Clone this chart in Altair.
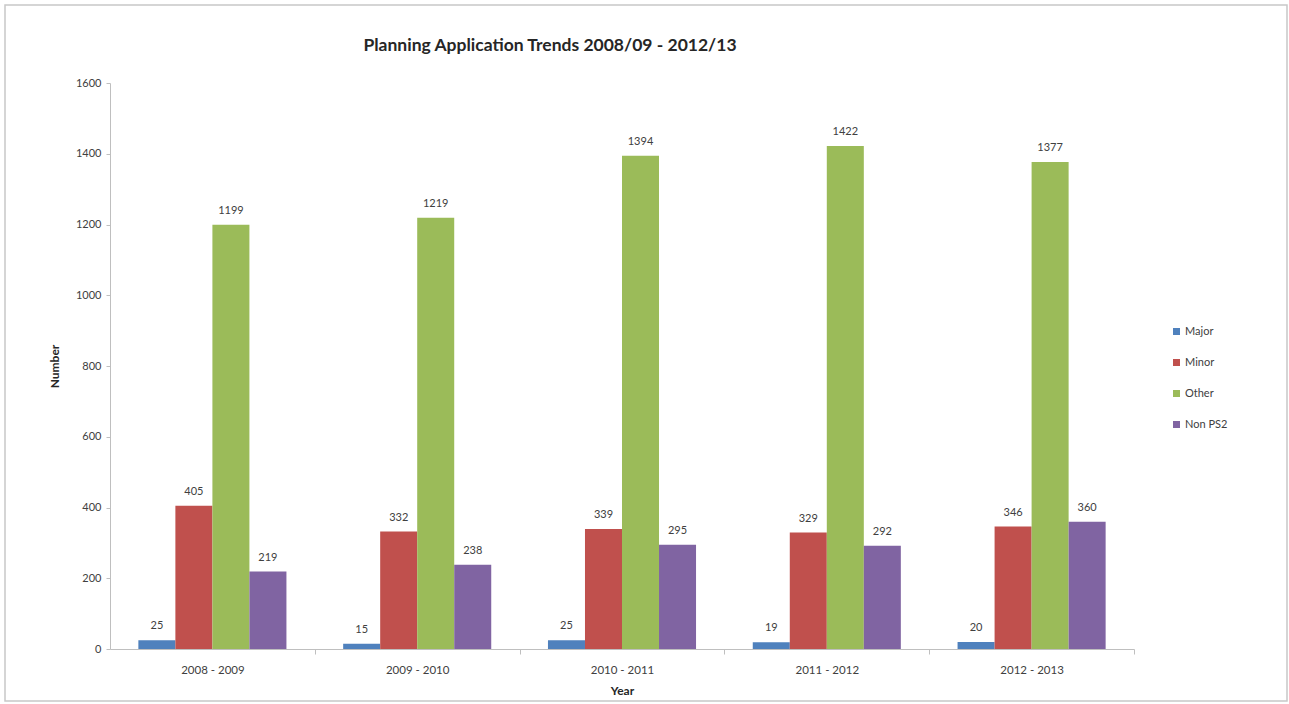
import altair as alt
import pandas as pd

# Planning application counts per financial year
years = ["2008 - 2009", "2009 - 2010", "2010 - 2011", "2011 - 2012", "2012 - 2013"]
categories = ["Major", "Minor", "Other", "Non PS2"]
major = [25, 15, 25, 19, 20]
minor = [405, 332, 339, 329, 346]
other = [1199, 1219, 1394, 1422, 1377]
non_ps2 = [219, 238, 295, 292, 360]
colors = ["#4F81BD", "#C0504D", "#9BBB59", "#8064A2"]

series = dict(zip(categories, [major, minor, other, non_ps2]))
rows = []
for cat in categories:
    for yr, val in zip(years, series[cat]):
        rows.append({"Year": yr, "Type": cat, "Number": val})
df = pd.DataFrame(rows)

FONT = "Lato"
W, H = 1024, 566
step = W / len(years)

x_enc = alt.X(
    "Year:N",
    sort=years,
    scale=alt.Scale(paddingInner=0.277, paddingOuter=0.1385),
    axis=alt.Axis(
        title="Year",
        titleFont=FONT,
        titleFontSize=12,
        titleFontWeight="bold",
        titleColor="#262626",
        titlePadding=10,
        labelFont=FONT,
        labelFontSize=11.5,
        labelColor="#404040",
        labelAngle=0,
        labelPadding=10,
        tickOffset=step / 2,
        labelOffset=-step / 2,
        tickSize=5,
        tickColor="#BFBFBF",
        domainColor="#BFBFBF",
        grid=False,
    ),
)
xoff_enc = alt.XOffset("Type:N", sort=categories, scale=alt.Scale(paddingInner=0, paddingOuter=0))
y_enc = alt.Y(
    "Number:Q",
    scale=alt.Scale(domain=[0, 1600], nice=False),
    axis=alt.Axis(
        title="Number",
        titleFont=FONT,
        titleFontSize=12,
        titleFontWeight="bold",
        titleColor="#262626",
        titlePadding=14,
        values=[0, 200, 400, 600, 800, 1000, 1200, 1400, 1600],
        format="d",
        labelFont=FONT,
        labelFontSize=11,
        labelColor="#404040",
        labelPadding=5,
        tickSize=4,
        tickColor="#BFBFBF",
        domainColor="#BFBFBF",
        grid=False,
    ),
)

base = alt.Chart(df)

bars = base.mark_bar().encode(
    x=x_enc,
    xOffset=xoff_enc,
    y=y_enc,
    color=alt.Color(
        "Type:N",
        sort=categories,
        scale=alt.Scale(domain=categories, range=colors),
        legend=alt.Legend(
            title=None,
            orient="none",
            legendX=1061,
            legendY=243,
            symbolType="square",
            symbolSize=49,
            symbolStrokeWidth=0,
            labelFont=FONT,
            labelFontSize=11,
            labelColor="#404040",
            labelOffset=3,
            rowPadding=19,
            padding=0,
        ),
    ),
)

labels = base.mark_text(
    font=FONT, fontSize=11, color="#404040", baseline="middle", dy=-14
).encode(
    x=alt.X("Year:N", sort=years),
    xOffset=alt.XOffset("Type:N", sort=categories),
    y="Number:Q",
    text="Number:Q",
)

# outer frame around the whole chart area
frame = alt.Chart(alt.Data(values=[{}])).mark_rect(
    filled=False, stroke="#C8C8C8", strokeWidth=1.5
).encode(
    x=alt.value(-105), x2=alt.value(1177), y=alt.value(-78), y2=alt.value(618)
)

chart = (
    alt.layer(frame, bars, labels)
    .properties(
        width=W,
        height=H,
        autosize=alt.AutoSizeParams(type="none"),
        padding={"left": 110, "top": 83, "right": 1289 - 110 - W, "bottom": 704 - 83 - H},
        background="white",
        title=alt.TitleParams(
            text="Planning Application Trends 2008/09 - 2012/13",
            font=FONT,
            fontSize=17.5,
            fontWeight="bold",
            color="#262626",
            anchor="middle",
            dx=-72,
            offset=-50,
        ),
    )
    .configure_view(stroke=None)
)

chart.save("out.html", embed_options={"renderer": "svg", "actions": False})
